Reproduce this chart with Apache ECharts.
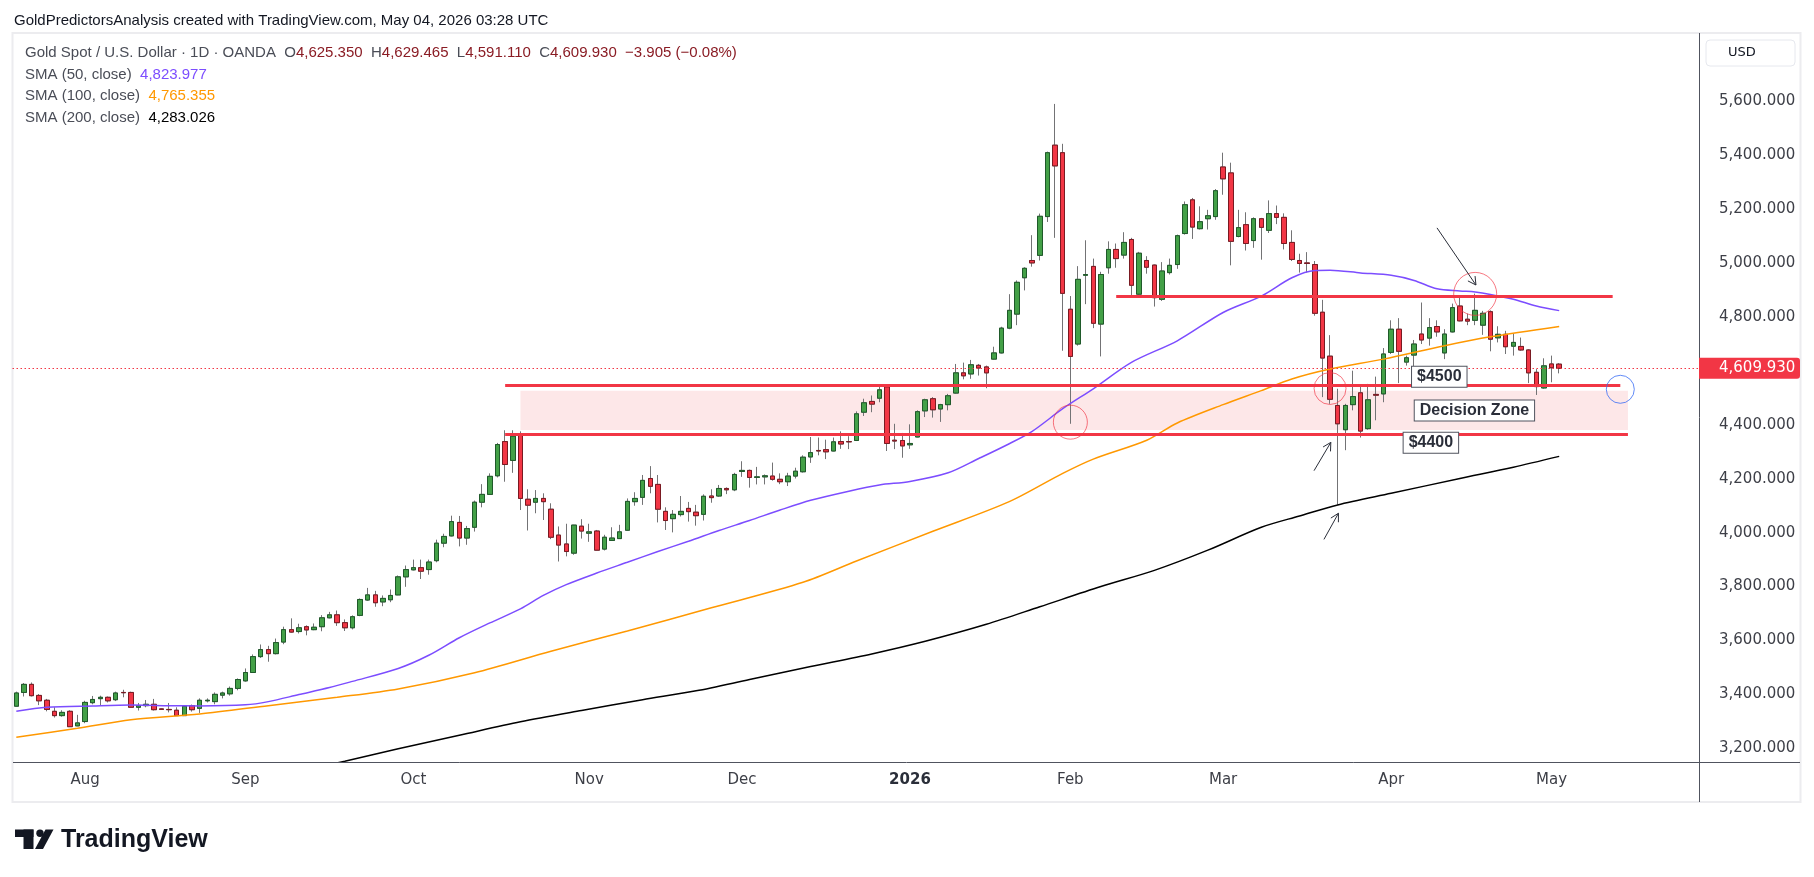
<!DOCTYPE html>
<html>
<head>
<meta charset="utf-8">
<title>Gold Spot / U.S. Dollar</title>
<script src="https://cdn.jsdelivr.net/npm/echarts@6/dist/echarts.min.js"></script>
<style>
  html, body { margin: 0; padding: 0; background: #fff; }
  #chart { width: 1814px; height: 877px; }
</style>
</head>
<body>
<div id="chart"></div>
<script>
// trading calendar: weekdays from the first bar, market holidays skipped
const startDay = '2025-07-21';
const holidays = ['2025-12-25', '2026-01-01', '2026-04-03'];
const slotCount = 221; // candles + empty room on the right

// daily candles, XAU/USD
const opens = [3356,3407,3437,3396,3378,3337,3321,3337,3283,3299,
  3369,3384,3389,3380,3407,3407,3352,3358,3363,3346,
  3344,3341,3321,3358,3348,3376,3373,3397,3402,3422,
  3450,3481,3540,3566,3551,3594,3640,3633,3651,3640,
  3651,3684,3695,3666,3647,3693,3750,3769,3743,3751,
  3769,3836,3862,3870,3863,3896,3961,3988,4038,3980,
  4020,4113,4142,4211,4338,4268,4364,4124,4113,4127,
  4087,3991,3958,3924,4024,3998,4006,3939,3971,3978,
  4009,4115,4131,4201,4179,4079,4052,4067,4090,4076,
  4068,4136,4136,4164,4159,4227,4231,4205,4207,4210,
  4198,4189,4210,4226,4281,4305,4308,4303,4338,4338,
  4342,4447,4487,4499,4541,4343,4342,4326,4355,4452,
  4497,4459,4475,4518,4593,4589,4621,4615,4644,4667,
  4759,4811,4946,5010,5029,5173,5438,5410,4829,4700,
  4955,4988,4774,4983,5051,5030,5088,4885,5010,4993,
  4866,4965,4995,5110,5235,5128,5165,5173,5357,5335,
  5099,5143,5084,5165,5122,5184,5170,5077,5010,5001,
  4995,4818,4655,4472,4382,4475,4519,4386,4513,4515,
  4669,4755,4633,4659,4737,4722,4765,4667,4745,4841,
  4792,4788,4770,4820,4723,4736,4692,4691,4678,4595,
  4537,4626,4625.35];
const highs = [3410,3442,3444,3401,3383,3352,3341,3341,3324,3376,
  3394,3395,3392,3410,3417,3410,3368,3379,3383,3348,
  3368,3352,3360,3362,3385,3385,3407,3410,3429,3459,
  3496,3548,3585,3580,3607,3651,3682,3662,3656,3663,
  3694,3706,3711,3678,3693,3756,3795,3784,3767,3789,
  3841,3878,3900,3900,3900,3974,3996,4063,4062,4025,
  4119,4180,4220,4333,4380,4380,4376,4161,4158,4146,
  4109,4023,4033,4029,4050,4033,4010,3992,4020,4029,
  4127,4150,4214,4247,4214,4094,4084,4136,4114,4103,
  4142,4161,4177,4168,4222,4265,4234,4244,4216,4260,
  4220,4222,4241,4287,4355,4353,4345,4353,4376,4358,
  4450,4497,4509,4548,4542,4404,4370,4402,4454,4497,
  4503,4478,4515,4626,4631,4641,4626,4620,4690,4764,
  4885,4936,4985,5104,5184,5414,5591,5443,4878,4989,
  5085,5017,4968,5081,5073,5115,5094,5042,5026,4995,
  5004,5017,5106,5229,5242,5211,5198,5275,5410,5373,
  5198,5189,5170,5168,5233,5214,5185,5122,5035,5041,
  5008,4864,4733,4534,4478,4601,4550,4552,4579,4685,
  4788,4796,4657,4715,4854,4796,4788,4755,4850,4872,
  4813,4887,4823,4825,4766,4749,4739,4724,4681,4607,
  4647,4657,4629.465];
const lows = [3355,3392,3392,3360,3337,3314,3317,3279,3282,3293,
  3363,3358,3370,3375,3389,3351,3340,3352,3340,3342,
  3333,3320,3320,3336,3331,3370,3363,3385,3395,3415,
  3447,3480,3535,3521,3548,3586,3629,3626,3619,3638,
  3634,3682,3654,3635,3641,3690,3747,3725,3727,3742,
  3768,3799,3860,3828,3844,3890,3946,3986,3949,3955,
  4004,4094,4140,4205,4189,4222,4084,4008,4072,4047,
  3976,3893,3912,3918,3978,3966,3934,3934,3969,3977,
  4007,4100,4103,4146,4038,4010,4001,4060,4041,4026,
  4045,4111,4133,4143,4154,4207,4167,4179,4179,4193,
  4180,4173,4201,4223,4259,4287,4273,4302,4311,4310,
  4340,4433,4447,4484,4303,4310,4278,4311,4354,4429,
  4427,4411,4454,4516,4569,4571,4583,4536,4642,4665,
  4755,4770,4899,4987,5010,5153,5094,4675,4404,4694,
  4848,4759,4654,4961,4983,5017,4875,4882,4961,4839,
  4860,4958,4979,5106,5090,5125,5125,5161,5254,4992,
  5096,5047,5057,5013,5112,5145,5051,5008,4965,4965,
  4805,4503,4478,4103,4306,4454,4353,4382,4417,4484,
  4663,4555,4620,4614,4700,4694,4727,4644,4743,4784,
  4770,4770,4734,4673,4706,4663,4657,4675,4555,4511,
  4534,4558,4591.11];
const closes = [3405,3437,3395,3376,3344,3321,3333,3280,3294,3370,
  3381,3389,3376,3405,3406,3352,3358,3363,3343,3344,
  3343,3321,3356,3343,3378,3378,3400,3405,3422,3455,
  3481,3540,3566,3551,3592,3640,3631,3647,3639,3649,
  3684,3695,3666,3647,3688,3752,3769,3740,3756,3767,
  3836,3863,3870,3857,3891,3961,3986,4041,3980,4015,
  4113,4142,4209,4327,4253,4358,4127,4102,4127,4115,
  3983,3954,3930,4028,4006,4003,3935,3983,3980,4003,
  4116,4127,4194,4172,4087,4045,4068,4079,4078,4063,
  4135,4130,4164,4159,4216,4231,4205,4207,4211,4198,
  4189,4210,4228,4280,4297,4303,4300,4337,4329,4337,
  4441,4482,4477,4530,4331,4340,4322,4331,4449,4493,
  4456,4475,4508,4593,4582,4623,4611,4593,4667,4759,
  4825,4929,4981,5001,5174,5410,5361,4888,4654,4940,
  4958,4777,4958,5051,5017,5077,4918,5037,4985,4872,
  4971,4992,5102,5217,5134,5154,5176,5269,5313,5081,
  5132,5073,5165,5133,5184,5170,5073,5014,4999,4999,
  4814,4648,4495,4404,4472,4505,4377,4493,4510,4663,
  4755,4673,4649,4700,4715,4761,4745,4737,4835,4786,
  4785,4825,4814,4718,4736,4690,4706,4678,4593,4542,
  4619,4612,4609.93];
const lastChange = '\u22123.905 (\u22120.08%)';

// moving averages: [bar index, value]
const sma50 = [[0,3337],[4,3352],[10,3357],[15,3360],[20,3358],[24,3357],[30,3361],[33,3373],[37,3399],
  [41,3425],[44,3448],[50,3496],[54,3545],[58,3610],[62,3665],[66,3717],[69,3767],[72,3807],[76,3850],
  [80,3890],[84,3930],[88,3968],[92,4008],[96,4045],[100,4084],[104,4120],[109,4154],[113,4177],
  [117,4190],[122,4222],[126,4275],[130,4330],[133,4376],[137,4460],[141,4534],[146,4632],[152,4712],
  [158,4817],[163,4878],[167,4946],[170,4973],[172,4974],[176,4964],[180,4955],[183,4936],[186,4905],
  [189,4897],[191,4893],[193,4884],[196,4866],[199,4841],[202,4823.977]];
const sma100 = [[0,3241],[8,3274],[15,3306],[24,3327],[33,3358],[42,3389],[50,3420],[60,3480],[70,3560],
  [80,3635],[91,3721],[103,3816],[110,3895],[120,4005],[130,4115],[137,4220],[141,4273],[148,4343],
  [152,4407],[158,4475],[163,4527],[167,4570],[172,4607],[179,4644],[187,4694],[193,4727],[202,4765.355]];
const sma200 = [[38,3120],[43,3152],[50,3198],[58,3248],[66,3298],[74,3340],[82,3380],[89,3413],[96,3455],
  [104,3503],[112,3550],[119,3597],[127,3660],[134,3725],[142,3800],[149,3860],[156,3935],[163,4020],
  [168,4062],[173,4103],[180,4146],[189,4201],[196,4243],[202,4283.026]];

const priceTicks = [3200,3400,3600,3800,4000,4200,4400,4600,4800,5000,5200,5400,5600];
const priceMin = 3148.9, priceMax = 5850.5;

// drawings on the chart (bar index, price)
const zoneTop = 4546, zoneBottom = 4367, resistance = 4877;
const zoneFill = [[66, 4527], [211, 4381]];
const redCircles = [[138, 4410, 34], [172, 4535, 32], [191, 4886, 43]];
const blueCircles = [[210, 4532, 28]];
const arrows = [[[186.0, 5131], [191.1, 4919]], [[169.9, 4230], [172.1, 4335]], [[171.2, 3975], [173.1, 4072]]];
const boxes = [['$4500', 186.3, 4579], ['Decision Zone', 190.9, 4453], ['$4400', 185.2, 4334]];

const monthNames = ['Jan','Feb','Mar','Apr','May','Jun','Jul','Aug','Sep','Oct','Nov','Dec'];

function buildDays() {
  const out = [];
  const d = new Date(startDay + 'T00:00:00Z');
  while (out.length < slotCount) {
    const iso = d.toISOString().slice(0, 10);
    const wd = d.getUTCDay();
    if (wd !== 0 && wd !== 6 && holidays.indexOf(iso) < 0) out.push(iso);
    d.setUTCDate(d.getUTCDate() + 1);
  }
  return out;
}
function fmt(v) {
  return v.toLocaleString('en-US', {minimumFractionDigits: 3, maximumFractionDigits: 3});
}

const days = buildDays();
const n = opens.length;
const wickData = opens.map((o, i) => [o, closes[i], lows[i], highs[i]]);
const bodyData = opens.map((o, i) => [o, closes[i], Math.min(o, closes[i]), Math.max(o, closes[i])]);
const red = '#f23645';

const chart = echarts.init(document.getElementById('chart'), null, {renderer: 'canvas'});
chart.setOption({
  animation: false,
  backgroundColor: '#ffffff',
  grid: {left: 12.5, right: 113.5, top: 34, bottom: 115, outerBoundsMode: 'none'},
  xAxis: {
    type: 'category',
    data: days,
    boundaryGap: true,
    axisLine: {show: false},
    axisTick: {show: false},
    splitLine: {show: false},
    axisLabel: {
      interval: (i) => i > 0 && i < n && days[i].slice(5, 7) !== days[i - 1].slice(5, 7),
      formatter: (v) => {
        const m = +v.slice(5, 7);
        return m === 1 ? '{y|' + v.slice(0, 4) + '}' : monthNames[m - 1];
      },
      color: '#3d3f47',
      fontFamily: 'DejaVu Sans',
      fontSize: 15,
      margin: 11,
      rich: {y: {fontWeight: 'bold', color: '#2a2e39', fontFamily: 'DejaVu Sans', fontSize: 15}}
    }
  },
  yAxis: {
    type: 'value',
    position: 'right',
    min: priceMin,
    max: priceMax,
    splitLine: {show: false},
    axisLine: {show: false},
    axisTick: {show: false},
    axisLabel: {
      customValues: priceTicks,
      formatter: (v) => fmt(v),
      margin: 18.5,
      color: '#3d3f47',
      fontFamily: 'DejaVu Sans',
      fontSize: 15
    }
  },
  series: [
    {
      // wicks
      type: 'candlestick',
      data: wickData,
      barWidth: 5,
      itemStyle: {color: '#737375', color0: '#737375', borderColor: '#737375', borderColor0: '#737375', borderWidth: 1},
      markArea: {
        silent: true,
        itemStyle: {color: 'rgba(242,54,69,0.12)'},
        data: [[{coord: zoneFill[0]}, {coord: zoneFill[1]}]]
      }
    },
    {
      // bodies
      type: 'candlestick',
      data: bodyData,
      barWidth: 5,
      itemStyle: {color: '#43a047', color0: red, borderColor: '#1f5a2a', borderColor0: '#7a1a22', borderWidth: 1},
      markLine: {
        silent: true,
        symbol: 'none',
        label: {show: false},
        lineStyle: {color: red, width: 3, type: 'solid'},
        data: [
          {yAxis: closes[n - 1], lineStyle: {color: red, width: 1, type: [1.5, 2.5]}},
          [{coord: [64, zoneTop]}, {coord: [210, zoneTop]}],
          [{coord: [64, zoneBottom]}, {coord: [211, zoneBottom]}],
          [{coord: [144, resistance]}, {coord: [209, resistance]}]
        ]
      }
    },
    {type: 'line', name: 'SMA 50', data: sma50, showSymbol: false, smooth: 0.3, lineStyle: {color: '#7c4dff', width: 1.5}, z: 4},
    {type: 'line', name: 'SMA 100', data: sma100, showSymbol: false, smooth: 0.3, lineStyle: {color: '#ff9800', width: 1.5}, z: 4},
    {type: 'line', name: 'SMA 200', data: sma200, showSymbol: false, smooth: 0.3, lineStyle: {color: '#000000', width: 1.5}, z: 4},
    {
      type: 'scatter',
      silent: true,
      z: 6,
      data: redCircles.map((c) => ({value: [c[0], c[1]], symbolSize: c[2], itemStyle: {color: 'rgba(0,0,0,0)', borderColor: 'rgba(242,54,69,0.85)', borderWidth: 1}}))
        .concat(blueCircles.map((c) => ({value: [c[0], c[1]], symbolSize: c[2], itemStyle: {color: 'rgba(0,0,0,0)', borderColor: '#3b6ef5', borderWidth: 1}})))
    }
  ]
});

// pixel helper that allows fractional bar positions
function toPx(i, p) {
  const k = Math.floor(i);
  const a = chart.convertToPixel({gridIndex: 0}, [k, p]);
  const b = chart.convertToPixel({gridIndex: 0}, [k + 1, p]);
  return [a[0] + (b[0] - a[0]) * (i - k), a[1]];
}

const g = [];
// frame
g.push({type: 'rect', shape: {x: 12.5, y: 33, width: 1788, height: 769}, style: {fill: 'none', stroke: '#ececef', lineWidth: 2}, z: 1});
g.push({type: 'line', shape: {x1: 13, y1: 762.5, x2: 1800, y2: 762.5}, style: {stroke: '#50535e', lineWidth: 1}, z: 10});
g.push({type: 'line', shape: {x1: 1699.5, y1: 33, x2: 1699.5, y2: 802}, style: {stroke: '#50535e', lineWidth: 1}, z: 10});
g.push({type: 'rect', shape: {x: 1706, y: 40, width: 89, height: 26, r: 4}, style: {fill: '#fff', stroke: '#e6e8ee', lineWidth: 1}, z: 10});
g.push({type: 'text', x: 1728, y: 53, style: {text: 'USD', fill: '#131722', font: '13px "DejaVu Sans"', verticalAlign: 'middle'}, z: 11});

// last price tag
const yLast = toPx(0, closes[n - 1])[1];
g.push({type: 'rect', shape: {x: 1699, y: yLast - 10.5, width: 101, height: 21, r: [0, 3, 3, 0]}, style: {fill: red}, z: 12});
g.push({type: 'text', x: 1719, y: yLast, style: {text: fmt(closes[n - 1]), fill: '#ffffff', font: '15px "DejaVu Sans"', verticalAlign: 'middle'}, z: 13});

// header and legend
const legendFont = '"Liberation Sans"';
g.push({type: 'text', x: 14, y: 20.5, style: {text: 'GoldPredictorsAnalysis created with TradingView.com, May 04, 2026 03:28 UTC', fill: '#131722', font: '15px ' + legendFont, verticalAlign: 'middle'}, z: 20});
const rich = {
  t: {fill: '#4a4d57', font: '15px ' + legendFont},
  v: {fill: '#8a1c24', font: '15px ' + legendFont},
  p: {fill: '#7c4dff', font: '15px ' + legendFont},
  o: {fill: '#ff9800', font: '15px ' + legendFont},
  k: {fill: '#000000', font: '15px ' + legendFont}
};
const ohlcLine = '{t|Gold Spot / U.S. Dollar \u00b7 1D \u00b7 OANDA}  {t|O}{v|' + fmt(opens[n - 1]) + '}  {t|H}{v|' + fmt(highs[n - 1]) +
  '}  {t|L}{v|' + fmt(lows[n - 1]) + '}  {t|C}{v|' + fmt(closes[n - 1]) + '}  {v|' + lastChange + '}';
const legendLines = [
  [53, ohlcLine],
  [74.5, '{t|SMA (50, close)}  {p|' + fmt(sma50[sma50.length - 1][1]) + '}'],
  [96, '{t|SMA (100, close)}  {o|' + fmt(sma100[sma100.length - 1][1]) + '}'],
  [117.5, '{t|SMA (200, close)}  {k|' + fmt(sma200[sma200.length - 1][1]) + '}']
];
legendLines.forEach((l) => {
  g.push({type: 'text', x: 25, y: l[0], style: {text: l[1], rich: rich, font: '15px ' + legendFont, verticalAlign: 'middle'}, z: 20});
});

// arrows
arrows.forEach((a) => {
  const s = toPx(a[0][0], a[0][1]);
  const e = toPx(a[1][0], a[1][1]);
  const ang = Math.atan2(e[1] - s[1], e[0] - s[0]);
  const arm = (d) => [e[0] - 9 * Math.cos(ang + d), e[1] - 9 * Math.sin(ang + d)];
  g.push({type: 'line', shape: {x1: s[0], y1: s[1], x2: e[0], y2: e[1]}, style: {stroke: '#2a2e39', lineWidth: 1}, z: 15});
  g.push({type: 'polyline', shape: {points: [arm(0.5), e, arm(-0.5)]}, style: {stroke: '#2a2e39', lineWidth: 1, fill: 'none'}, z: 15});
});

// labelled boxes
boxes.forEach((b) => {
  const p = toPx(b[1], b[2]);
  g.push({type: 'text', x: p[0], y: p[1], style: {
    text: b[0], fill: '#2a2e39', font: 'bold 16px ' + legendFont, align: 'center', verticalAlign: 'middle',
    backgroundColor: '#ffffff', borderColor: '#50535e', borderWidth: 1, padding: [2, 5]
  }, z: 16});
});

// TradingView mark
const ink = '#131722';
g.push({type: 'rect', shape: {x: 15, y: 829.5, width: 18.5, height: 7.5}, style: {fill: ink}, z: 20});
g.push({type: 'rect', shape: {x: 23.5, y: 829.5, width: 10, height: 19.5}, style: {fill: ink}, z: 20});
g.push({type: 'circle', shape: {cx: 40, cy: 833.3, r: 3.7}, style: {fill: ink}, z: 20});
g.push({type: 'polygon', shape: {points: [[35, 849], [43, 849], [53.5, 829.5], [45.5, 829.5]]}, style: {fill: ink}, z: 20});
g.push({type: 'text', x: 61, y: 840, style: {text: 'TradingView', fill: ink, font: 'bold 25px ' + legendFont, verticalAlign: 'middle'}, z: 20});

chart.setOption({graphic: {elements: g}});
</script>
</body>
</html>
